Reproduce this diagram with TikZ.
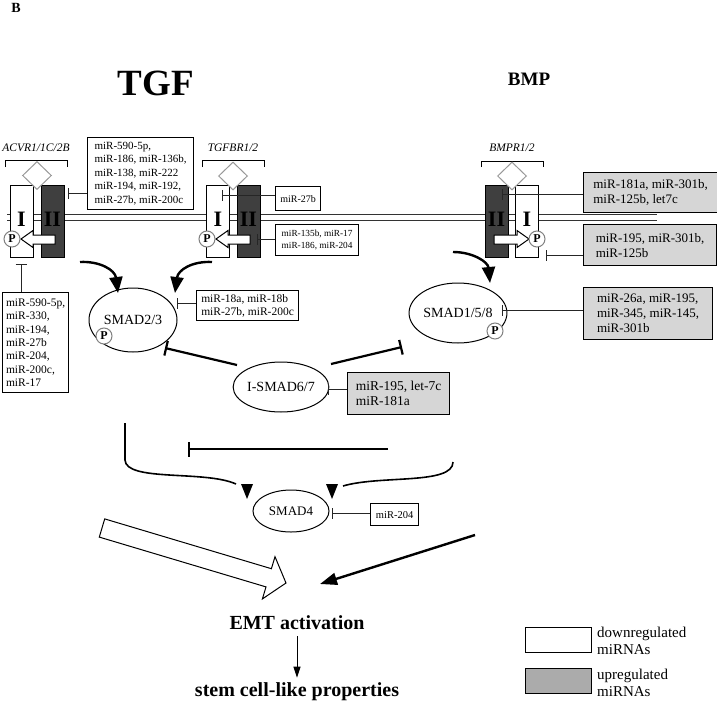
\documentclass[tikz,border=0pt]{standalone}
\usepackage{fontspec}
\setmainfont{Liberation Serif}
\usetikzlibrary{arrows.meta,shapes.geometric,calc}
\definecolor{boxgray}{HTML}{D6D6D6}
\definecolor{leggray}{HTML}{ABABAB}
\definecolor{recdark}{HTML}{3F3F3F}
\newcommand\myfs[2]{\fontsize{#1}{#2}\selectfont}
\begin{document}
\begin{tikzpicture}[x=1pt,y=-1pt,
  wbox/.style={draw, line width=1.2pt, fill=white, align=left, inner sep=3pt, anchor=north west, font=\myfs{11.5}{13.5}},
  gbox/.style={wbox, fill=boxgray, font=\myfs{13}{15}},
  recI/.style={draw, line width=1pt, fill=white, minimum width=23pt, minimum height=72pt, inner sep=0pt, font=\myfs{22}{22}\bfseries},
  recII/.style={recI, fill=recdark},
  lig/.style={diamond, draw=gray!80, fill=white, line width=1pt, minimum width=29pt, minimum height=28pt, inner sep=0pt},
  pc/.style={circle, draw=gray, fill=white, line width=1pt, minimum size=16pt, inner sep=0pt, font=\myfs{12}{12}\bfseries},
  openarr/.style={draw, line width=1pt, fill=white},
  inh/.style={line width=1pt, draw=black!85, -{Bar[width=11pt,line width=1pt]}},
  tinh/.style={line width=2.2pt, -{Bar[width=15pt,line width=2.2pt]}},
  carr/.style={line width=2.4pt, -{Triangle[width=13pt,length=16pt]}},
  smad/.style={ellipse, draw, line width=1pt, inner sep=0pt, font=\myfs{14}{14}},
  bigtxt/.style={font=\myfs{20}{20}\bfseries, inner sep=2pt},
  reclab/.style={font=\myfs{11.5}{11.5}\itshape, inner sep=0pt},
  bracket/.style={line width=1pt}
]
\useasboundingbox (0,0) rectangle (717,704);

% titles
\node[font=\myfs{14}{14}\bfseries, inner sep=0pt] (lblB) at (16,8) {B};
\node[font=\myfs{37}{37}\bfseries, inner sep=0pt] (tgf) at (156,83) {TGF};
\node[font=\myfs{19}{19}\bfseries, inner sep=0pt] (bmp) at (529,79) {BMP};

% membrane
\draw[line width=1pt, black!80] (7,214) -- (657,214);
\draw[line width=1pt, black!80] (7,220) -- (657,220);

% receptor labels and brackets
\node[reclab] (labA) at (36,148) {ACVR1/1C/2B};
\node[reclab] (labT) at (233,148) {TGFBR1/2};
\node[reclab] (labB) at (512,148) {BMPR1/2};
\draw[bracket] (5,167) -- (5,160) -- (67,160) -- (67,167);
\draw[bracket] (202,167) -- (202,160) -- (264,160) -- (264,167);
\draw[bracket] (481,167) -- (481,161) -- (543,161) -- (543,167);

% ACVR receptor
\node[recI] (aI) at (21.5,221) {\raisebox{3pt}{I}};
\node[recII] (aII) at (52.5,221) {\raisebox{3pt}{II}};
\node[lig] (aL) at (37,175.5) {};
\draw[openarr] (55,235) -- (33,235) -- (33,230.5) -- (21,239) -- (33,247.5) -- (33,244) -- (55,244) -- cycle;
\node[pc] (aP) at (12,239) {P};

% TGFBR receptor
\node[recI] (tI) at (218,221) {\raisebox{3pt}{I}};
\node[recII] (tII) at (248.5,221) {\raisebox{3pt}{II}};
\node[lig] (tL) at (233,176) {};
\draw[openarr] (250,235) -- (228,235) -- (228,230.5) -- (216,239) -- (228,247.5) -- (228,244) -- (250,244) -- cycle;
\node[pc] (tP) at (207,239) {P};

% BMPR receptor
\node[recII] (bII) at (496.5,221) {\raisebox{3pt}{II}};
\node[recI] (bI) at (527,221) {\raisebox{3pt}{I}};
\node[lig] (bL) at (512,176) {};
\draw[openarr] (494,235) -- (517,235) -- (517,230.5) -- (529,239) -- (517,247.5) -- (517,244) -- (494,244) -- cycle;
\node[pc] (bP) at (537,239) {P};

% miRNA boxes (white = downregulated)
\node[wbox, minimum width=106pt, minimum height=72pt, font=\myfs{11}{13.5}] (boxA) at (87,137)
  {miR-590-5p,\\miR-186, miR-136b,\\miR-138, miR-222\\miR-194, miR-192,\\miR-27b, miR-200c};
\node[wbox, minimum width=66pt, minimum height=100pt, font=\myfs{11.5}{13.4}] (boxB) at (2,292)
  {miR-590-5p,\\miR-330,\\miR-194,\\miR-27b\\miR-204,\\miR-200c,\\miR-17};
\node[wbox, minimum width=45pt, minimum height=24pt, font=\myfs{10}{12}] (boxC) at (275,186) {miR-27b};
\node[wbox, minimum width=83pt, minimum height=31pt, font=\myfs{9.3}{12}] (boxJ) at (275,224)
  {miR-135b, miR-17\\miR-186, miR-204};
\node[wbox, minimum width=102pt, minimum height=30pt, font=\myfs{11.5}{13}] (boxH) at (196,290)
  {miR-18a, miR-18b\\miR-27b, miR-200c};
\node[wbox, minimum width=48pt, minimum height=22pt, font=\myfs{10.5}{12}] (boxI) at (370,503) {miR-204};

% grey boxes (upregulated)
\node[gbox, minimum width=134pt, minimum height=40pt] (boxD) at (583,172)
  {miR-181a, miR-301b,\\miR-125b, let7c};
\node[gbox, minimum width=133pt, minimum height=41pt] (boxE) at (583,224)
  {miR-195, miR-301b,\\miR-125b};
\node[gbox, minimum width=129pt, minimum height=52pt] (boxF) at (583,287)
  {miR-26a, miR-195,\\miR-345, miR-145,\\miR-301b};
\node[gbox, minimum width=102pt, minimum height=42pt, font=\myfs{13.5}{15}] (boxG) at (347,372)
  {miR-195, let-7c\\miR-181a};

% SMAD nodes
\node[smad, minimum width=88pt, minimum height=64pt] (s23) at (133,320) {SMAD2/3};
\node[pc] (s23P) at (104,336) {P};
\node[smad, minimum width=84pt, minimum height=60pt] (s158) at (458,313) {SMAD1/5/8};
\node[pc] (s158P) at (495,331) {P};
\node[smad, minimum width=88pt, minimum height=50pt] (ismad) at (281,387) {I-SMAD6/7};
\node[smad, minimum width=76pt, minimum height=42pt, font=\myfs{13}{13}] (s4) at (291,511) {SMAD4};

% inhibition targets
\coordinate (tA) at (68,193);
\coordinate (tB) at (21,264);
\coordinate (tC) at (222,195);
\coordinate (tJ) at (257,239);
\coordinate (tD) at (502,194);
\coordinate (tE) at (546,255);
\coordinate (tF) at (502,310);
\coordinate (tH) at (177,303);
\coordinate (tG) at (328,389);
\coordinate (tI) at (332,513);

\draw[inh] (boxA.west |- tA) -- (tA);
\draw[inh] (boxB.north -| tB) -- (tB);
\draw[inh] (boxC.west |- tC) -- (tC);
\draw[inh] (boxJ.west |- tJ) -- (tJ);
\draw[inh] (boxD.west |- tD) -- (tD);
\draw[inh] (boxE.west |- tE) -- (tE);
\draw[inh] (boxF.west |- tF) -- (tF);
\draw[inh] (boxH.west |- tH) -- (tH);
\draw[inh] (boxG.west |- tG) -- (tG);
\draw[inh] (boxI.west |- tI) -- (tI);

% receptor -> SMAD arrows
\coordinate (aOut) at (80,262);
\coordinate (tOut) at (212,262);
\coordinate (bOut) at (453,252);
\coordinate (s23inL) at (118,293);
\coordinate (s23inR) at (175,293);
\coordinate (s158in) at (490,283);
\draw[carr] (aOut) .. controls (100,261) and (115,270) .. (s23inL);
\draw[carr] (tOut) .. controls (192,261) and (178,270) .. (s23inR);
\draw[carr] (bOut) .. controls (473,252) and (488,262) .. (s158in);

% I-SMAD inhibitions
\coordinate (iL0) at (237,365);
\coordinate (iL1) at (165,348);
\coordinate (iR0) at (331,364);
\coordinate (iR1) at (402,347);
\draw[tinh] (iL0) -- (iL1);
\draw[tinh] (iR0) -- (iR1);

% SMAD4 inputs
\coordinate (lb0) at (125,423);
\coordinate (lb1) at (247,499);
\coordinate (rb0) at (453,462);
\coordinate (rb1) at (332,499);
\draw[line width=1.6pt] (lb0) -- (125,460) .. controls (126,482) and (205,470) .. (236,484);
\draw[line width=1.6pt] (rb0) .. controls (453,485) and (380,475) .. (343,486);
\fill (241,484) -- (253,484) -- (lb1) -- cycle;
\fill (326,484) -- (338,484) -- (rb1) -- cycle;
\coordinate (h0) at (388,449);
\coordinate (h1) at (188,449);
\draw[tinh] (h0) -- (h1);

% to EMT
\draw[openarr] (104.7,518.9) -- (271.4,568.7) -- (275,556.7) -- (286,583) -- (262.4,598.9) -- (266,586.9) -- (99.3,537.1) -- cycle;
\coordinate (ba0) at (475,535);
\coordinate (ba1) at (320,584);
\draw[line width=2.4pt, -{Triangle[width=12pt,length=17pt]}] (ba0) -- (ba1);

\node[bigtxt] (emt) at (297,623) {EMT activation};
\node[bigtxt] (stem) at (297,692) {stem cell-like properties};
\draw[line width=1pt, -{Triangle[width=7pt,length=11pt]}, shorten <=4pt, shorten >=3pt] (emt.south) -- (stem.north);

% legend
\node[draw, line width=1.2pt, fill=white, minimum width=66pt, minimum height=25pt, anchor=north west, inner sep=0pt] (legW) at (525,627) {};
\node[draw, line width=1.2pt, fill=leggray, minimum width=66pt, minimum height=25pt, anchor=north west, inner sep=0pt] (legG) at (525,668) {};
\node[anchor=west, align=left, font=\myfs{15}{17}, inner sep=0pt] (legWt) at (597,641) {downregulated\\miRNAs};
\node[anchor=west, align=left, font=\myfs{15}{17}, inner sep=0pt] (legGt) at (597,683) {upregulated\\miRNAs};
\end{tikzpicture}
\end{document}
